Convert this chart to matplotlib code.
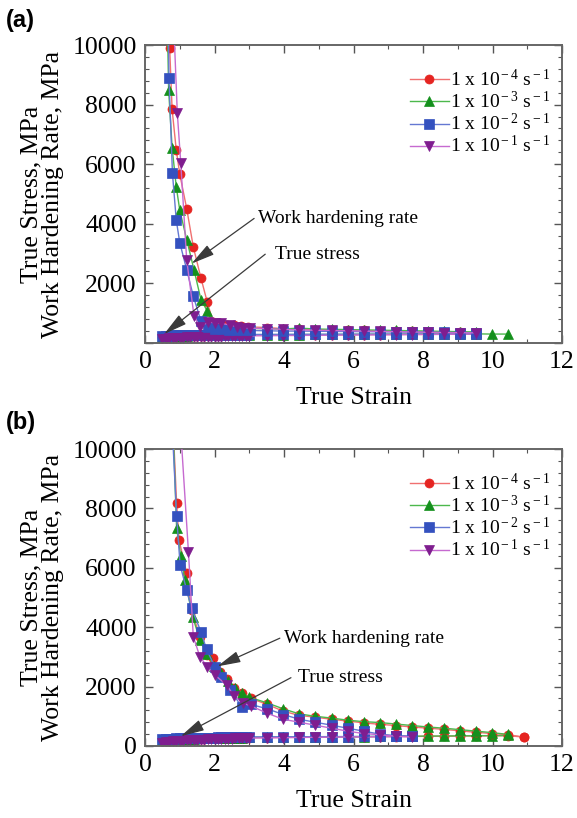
import matplotlib
matplotlib.use("Agg")
import matplotlib.pyplot as plt
from matplotlib.ticker import MultipleLocator

plt.rcParams['font.family'] = ['Liberation Serif', 'DejaVu Serif']
plt.rcParams['mathtext.fontset'] = 'custom'
plt.rcParams['mathtext.rm'] = 'Liberation Serif'
plt.rcParams['mathtext.it'] = 'Liberation Serif:italic'

# ---------------------------------------------------------------- data
rate_labels = [r'1 x 10$^{\rm -4}$ s$^{\rm -1}$',
               r'1 x 10$^{\rm -3}$ s$^{\rm -1}$',
               r'1 x 10$^{\rm -2}$ s$^{\rm -1}$',
               r'1 x 10$^{\rm -1}$ s$^{\rm -1}$']

# true strain sampling of the stress curves
strain_stress = [0.50, 0.60, 0.70, 0.80, 0.90, 1.00, 1.10, 1.20, 1.30, 1.40,
                 1.50, 1.60, 1.70, 1.80, 1.90, 2.00, 2.10, 2.20, 2.30, 2.40,
                 2.50, 2.60, 2.70, 2.80, 2.90, 3.00, 3.52, 3.98, 4.44, 4.90,
                 5.37, 5.83, 6.29, 6.75, 7.22, 7.68, 8.14, 8.60, 9.07, 9.53,
                 9.99, 10.45, 10.91]
strain_tail = [3.52, 3.98, 4.44, 4.90, 5.37, 5.83, 6.29, 6.75, 7.22, 7.68,
               8.14, 8.60, 9.07, 9.53, 9.99, 10.45, 10.91]

# ---- (a) true stress
a_stress_1e4 = [190, 205, 215, 222, 228, 233, 237, 240, 243, 245, 247, 249, 251,
                253, 255, 256, 258, 259, 260, 261, 262, 263, 264, 265, 266, 267,
                270, 272, 274, 276, 278, 280, 282, 284, 286, 288, 290, 292, 294, 296]
a_stress_1e3 = [200, 215, 225, 232, 238, 243, 247, 250, 253, 255, 257, 259, 261,
                263, 265, 266, 268, 269, 270, 271, 272, 273, 274, 275, 276, 277,
                280, 282, 284, 286, 288, 290, 292, 294, 296, 298, 300, 302, 304, 306,
                300, 300]
a_stress_1e2 = [240, 245, 250, 254, 257, 260, 262, 264, 266, 268, 270, 272, 273,
                274, 275, 276, 277, 278, 279, 280, 281, 282, 283, 284, 285, 286,
                288, 290, 291, 292, 293, 294, 295, 296, 297, 298, 299, 300, 301, 302]
a_stress_1e1 = [120, 140, 155, 165, 172, 178, 183, 187, 190, 193, 196, 199, 202,
                205, 208, 211, 214, 217, 220, 223, 226, 229, 232, 235, 238, 240,
                245, 250, 254, 258, 262, 266, 270, 274, 278, 282, 286, 290, 294, 298]

# ---- (a) work hardening rate
a_whr_x_1e4 = [0.71, 0.78, 0.90, 1.00, 1.20, 1.39, 1.61, 1.79, 1.96, 2.16, 2.36,
               2.56, 2.76, 2.96] + strain_tail[:14]
a_whr_1e4 = [9890, 7840, 6470, 5670, 4510, 3225, 2180, 1380, 705, 660, 620, 590,
             560, 540, 520, 480, 460, 450, 440, 430, 420, 410, 400, 390, 380, 370,
             360, 350]
a_whr_x_1e3 = [0.64, 0.68, 0.78, 0.90, 1.00, 1.20, 1.41, 1.61, 1.79, 1.98, 2.18,
               2.38, 2.58, 2.78, 2.98] + strain_tail[:14]
a_whr_1e3 = [11000, 8490, 6560, 5240, 4460, 3470, 2460, 1455, 1075, 600, 560, 540,
             520, 500, 490, 480, 470, 500, 470, 460, 450, 440, 430, 420, 410, 400,
             390, 380, 370]
a_whr_x_1e2 = [0.66, 0.69, 0.79, 0.90, 1.00, 1.20, 1.39, 1.61, 1.82, 2.02, 2.22,
               2.42, 2.62, 2.82, 3.02] + strain_tail[:14]
a_whr_1e2 = [12000, 8880, 5690, 4120, 3370, 2460, 1570, 740, 540, 480, 460, 450,
             440, 430, 420, 410, 400, 400, 395, 390, 385, 380, 375, 370, 365, 360,
             355, 350, 345]
a_whr_x_1e1 = [0.80, 0.93, 1.03, 1.20, 1.41, 1.58, 1.82, 2.01, 2.20, 2.45, 2.64,
               2.83, 3.02] + strain_tail[:14]
a_whr_1e1 = [11500, 7710, 6030, 2785, 906, 547, 700, 681, 660, 604, 550, 514, 500,
             480, 460, 440, 430, 420, 410, 400, 390, 380, 370, 360, 350, 345, 340]

# ---- (b) true stress
b_stress_1e4 = [180, 195, 205, 213, 220, 226, 231, 235, 239, 242, 245, 248, 251,
                254, 257, 260, 262, 264, 266, 268, 270, 272, 274, 276, 278, 280,
                285, 290, 294, 298, 302, 306, 310, 314, 318, 322, 326, 330, 334, 338,
                342, 346, 300]
b_stress_1e3 = [190, 205, 215, 223, 230, 236, 241, 245, 249, 252, 255, 258, 261,
                264, 267, 270, 272, 274, 276, 278, 280, 282, 284, 286, 288, 290,
                294, 298, 302, 306, 310, 314, 318, 322, 326, 330, 334, 338, 342, 346,
                350, 354]
b_stress_1e2 = [230, 238, 245, 250, 255, 259, 263, 266, 269, 272, 275, 278, 280,
                282, 284, 286, 288, 290, 292, 294, 296, 298, 300, 302, 304, 306,
                308, 310, 312, 314, 316, 318, 320, 322, 324, 326]
b_stress_1e1 = [110, 130, 145, 157, 167, 175, 182, 188, 194, 199, 204, 209, 214,
                219, 224, 229, 233, 237, 241, 245, 249, 253, 257, 261, 265, 269,
                275, 281, 287, 293, 299, 305, 311, 317, 323, 329]

# ---- (b) work hardening rate
b_whr_x_1e4 = [0.80, 0.91, 0.98, 1.20, 1.34, 1.58, 1.78, 1.97, 2.16, 2.35, 2.57,
               2.78, 3.05] + strain_tail
b_whr_1e4 = [11000, 8170, 6936, 5815, 4580, 3680, 3050, 2960, 2500, 2245, 1950,
             1775, 1600, 1400, 1170, 1030, 970, 900, 840, 780, 730, 690, 640, 600,
             560, 510, 460, 420, 380, 300]
b_whr_x_1e3 = [0.80, 0.91, 1.03, 1.15, 1.37, 1.58, 1.79, 1.99, 2.18, 2.38, 2.58,
               2.78, 2.98] + strain_tail[:16]
b_whr_1e3 = [11000, 7330, 6400, 5590, 4355, 3570, 3100, 2700, 2450, 2200, 1950,
             1800, 1650, 1450, 1250, 1080, 1000, 940, 870, 820, 790, 740, 690, 640,
             600, 550, 500, 450, 390]
b_whr_x_1e2 = [0.78, 0.91, 1.01, 1.20, 1.34, 1.61, 1.77, 2.01, 2.18, 2.45, 2.78,
               3.05] + strain_tail[:10]
b_whr_1e2 = [10800, 7745, 6094, 5250, 4636, 3850, 3255, 2670, 2333, 1900, 1323,
             1400, 1250, 1060, 900, 800, 700, 600, 500, 400, 350, 320]
b_whr_x_1e1 = [0.98, 1.25, 1.39, 1.58, 1.79, 2.01, 2.35, 2.55, 2.83, 3.05] + strain_tail[:10]
b_whr_1e1 = [11500, 6540, 3680, 3006, 2670, 2390, 2054, 1700, 1440, 1350, 1100,
             900, 800, 700, 600, 500, 420, 380, 330, 300]

marker_colors = ['#e52421', '#14901c', '#3451bf', '#7f1d8f']
line_colors = ['#f07070', '#4cb84c', '#6478d2', '#c66ad0']
markers = ['o', '^', 's', 'v']

panels = [
    dict(tag='(a)', rect=[145 / 577, 1 - 343 / 818, 417 / 577, 298 / 818],
         stress=[a_stress_1e4, a_stress_1e3, a_stress_1e2, a_stress_1e1],
         whr_x=[a_whr_x_1e4, a_whr_x_1e3, a_whr_x_1e2, a_whr_x_1e1],
         whr=[a_whr_1e4, a_whr_1e3, a_whr_1e2, a_whr_1e1],
         whr_text=(3.25, 4180), whr_tail=(3.14, 4180), whr_head=(1.34, 2665),
         ts_text=(3.75, 2980), ts_tail=(3.46, 2980), ts_head=(0.55, 300),
         show_zero=False, tag_y=1 - 20 / 818),
    dict(tag='(b)', rect=[145 / 577, 1 - 746 / 818, 417 / 577, 297 / 818],
         stress=[b_stress_1e4, b_stress_1e3, b_stress_1e2, b_stress_1e1],
         whr_x=[b_whr_x_1e4, b_whr_x_1e3, b_whr_x_1e2, b_whr_x_1e1],
         whr=[b_whr_1e4, b_whr_1e3, b_whr_1e2, b_whr_1e1],
         whr_text=(3.99, 3630), whr_tail=(3.88, 3630), whr_head=(2.08, 2680),
         ts_text=(4.41, 2323), ts_tail=(4.2, 2300), ts_head=(1.03, 330),
         show_zero=True, tag_y=1 - 423 / 818),
]

fig = plt.figure(figsize=(5.77, 8.18), dpi=100)

for p in panels:
    ax = fig.add_axes(p['rect'])
    for i in range(4):
        ys = p['stress'][i]
        xs = strain_stress[:len(ys)]
        ax.plot(xs, ys, color=line_colors[i], lw=1.0, marker=markers[i],
                markersize=6.5, markerfacecolor=marker_colors[i],
                markeredgecolor=marker_colors[i], markeredgewidth=0.5,
                clip_on=True, zorder=2 + i * 0.1)
    handles = []
    for i in range(4):
        h, = ax.plot(p['whr_x'][i], p['whr'][i], color=line_colors[i], lw=1.0,
                     marker=markers[i], markersize=6.5,
                     markerfacecolor=marker_colors[i],
                     markeredgecolor=marker_colors[i], markeredgewidth=0.5,
                     label=rate_labels[i], zorder=3 + i * 0.1)
        handles.append(h)

    ax.set_xlim(0, 12)
    ax.set_ylim(0, 10000)
    ax.set_xticks(range(0, 13, 2))
    ax.set_yticks(range(0, 10001, 2000))
    if not p['show_zero']:
        ax.set_yticklabels([''] + [str(v) for v in range(2000, 10001, 2000)])
    ax.xaxis.set_minor_locator(MultipleLocator(1))
    ax.yaxis.set_minor_locator(MultipleLocator(400))
    ax.tick_params(which='both', direction='in', top=True, right=True,
                   labelsize=18.5, color='#555555', pad=6)
    ax.tick_params(which='major', length=6, width=1.0)
    ax.tick_params(which='minor', length=3, width=0.8)
    for s in ax.spines.values():
        s.set_color('#666666')
        s.set_linewidth(1.4)

    ax.set_xlabel('True Strain', fontsize=18.5, labelpad=10)
    ax.set_ylabel('True Stress, MPa\nWork Hardening Rate, MPa', fontsize=18.5,
                  labelpad=6, linespacing=0.95)

    arrow = dict(arrowstyle='-|>,head_length=0.9,head_width=0.22',
                 color='#3a3a3a', lw=0.9, mutation_scale=16,
                 shrinkA=0, shrinkB=0)
    ax.annotate('', xy=p['whr_head'], xytext=p['whr_tail'], arrowprops=arrow, zorder=6)
    ax.annotate('', xy=p['ts_head'], xytext=p['ts_tail'], arrowprops=arrow, zorder=6)
    ax.text(*p['whr_text'], 'Work hardening rate', fontsize=14, va='center', ha='left')
    ax.text(*p['ts_text'], 'True stress', fontsize=14, va='center', ha='left')

    ax.legend(handles=handles, loc='upper left', bbox_to_anchor=(0.635, 0.92),
              frameon=False, fontsize=14, handlelength=2.0, handletextpad=0.05,
              labelspacing=0.05, borderaxespad=0, borderpad=0)

    fig.text(6 / 577, p['tag_y'], p['tag'], fontsize=17, fontweight='bold',
             family='Liberation Sans', va='center', ha='left')

fig.savefig('out.png', dpi=100)
